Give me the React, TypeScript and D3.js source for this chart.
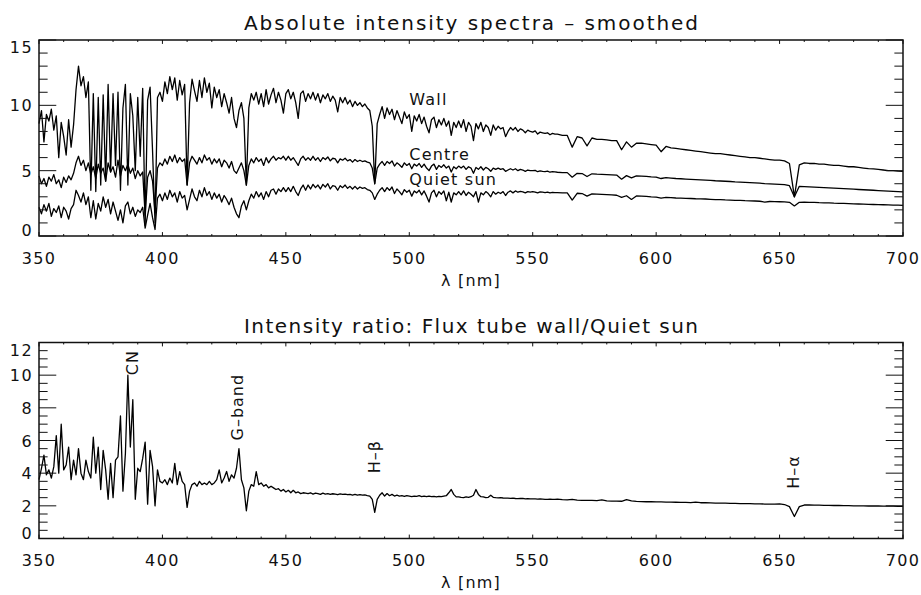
import React from 'react';
import * as d3 from 'd3';

// wavelength grid [nm]: 1 nm steps up to 560, 2 nm steps beyond
const lambdaBlue = d3.range(350, 560, 1);
const lambdaRed = d3.range(560, 701, 2);
const lambda = lambdaBlue.concat(lambdaRed);

// top panel - absolute intensity (smoothed)
const wallBlue = [
  8.6, 9.6, 7.2, 9.3, 8.8, 9.7, 8.1, 9.2, 6.0, 8.7,
  7.6, 6.2, 8.9, 6.8, 8.5, 11.2, 13.0, 11.5, 12.2, 10.6,
  11.8, 3.5, 10.9, 3.4, 10.6, 3.9, 10.8, 4.2, 11.6, 4.9,
  10.9, 5.4, 11.0, 3.5, 9.8, 11.6, 3.9, 10.9, 9.2, 5.0,
  10.6, 6.1, 11.3, 0.8, 10.4, 11.4, 6.5, 1.0, 10.6, 11.0,
  10.3, 11.8, 10.9, 12.2, 11.2, 12.1, 10.4, 11.9, 10.8, 11.6,
  3.9, 10.2, 12.0, 11.1, 10.3, 11.9, 10.6, 12.1, 11.0, 11.7,
  9.8, 11.4, 10.6, 11.2, 9.9, 10.9, 10.2, 9.4, 10.6, 9.0,
  8.3, 9.6, 10.2, 9.0, 3.9, 9.8, 10.9, 10.4, 11.0, 10.1,
  10.9, 9.9, 11.2, 10.1, 10.8, 11.3, 10.2, 11.0, 10.4, 9.4,
  10.9, 11.2, 10.5, 11.0, 10.2, 9.0, 10.9, 11.1, 10.3, 10.9,
  10.5, 11.0, 10.4, 10.9, 10.2, 10.8, 10.5, 10.9, 10.3, 10.7,
  10.4, 9.5, 10.6, 10.2, 10.6, 10.1, 10.4, 9.9, 10.3, 10.0,
  10.2, 9.9, 10.1, 9.8, 9.6, 8.4, 4.0, 8.6, 9.3, 9.9,
  9.0, 9.8, 9.3, 9.7, 8.9, 9.6, 9.1, 8.6, 9.5, 9.0,
  9.3, 8.0, 9.2, 8.8, 9.3, 8.6, 9.1, 8.4, 7.9, 8.9,
  9.1, 8.3, 8.9, 8.5, 9.0, 8.4, 8.8, 7.7, 8.7, 8.3,
  8.8, 8.3, 8.9, 8.0, 8.7, 8.4, 7.3, 8.6, 8.2, 8.7,
  8.0, 8.5, 8.3, 7.7, 8.5, 8.1, 8.4, 8.2, 8.3, 7.6,
  8.0, 8.3, 8.1, 8.3, 8.0, 8.2, 8.1, 7.9, 8.1, 8.0,
  7.95, 8.05, 7.8, 7.95, 7.9, 7.85, 7.9, 7.75, 7.85, 7.8,
];
const wallRed = [
  7.8, 7.7, 7.7, 6.8, 7.6, 7.5, 6.9, 7.5, 7.4, 7.4,
  7.35, 7.3, 7.3, 6.6, 7.2, 6.8, 7.1, 7.1, 7.05, 7.0,
  6.95, 6.45, 6.85, 6.75, 6.7, 6.65, 6.6, 6.55, 6.5, 6.45,
  6.4, 6.35, 6.3, 6.3, 6.25, 6.2, 6.15, 6.1, 6.05, 6.0,
  6.0, 5.95, 5.9, 5.85, 5.8, 5.8, 5.75, 5.55, 3.0, 5.45,
  5.6, 5.55, 5.55, 5.5, 5.5, 5.45, 5.4, 5.4, 5.35, 5.3,
  5.3, 5.25, 5.2, 5.15, 5.13, 5.1, 5.05, 5.0, 5.0, 4.97,
  4.95,
];

const centreBlue = [
  4.6, 4.0, 4.4, 3.8, 4.5, 4.2, 4.7, 4.0, 4.3, 3.7,
  4.5, 4.1, 4.6, 4.3, 4.8, 5.6, 6.1, 5.4, 5.8, 5.0,
  5.6, 4.7, 5.3, 4.4, 5.5, 4.8, 5.2, 4.2, 5.6, 4.9,
  5.3, 4.5, 5.8, 4.6, 5.4, 5.0, 5.5, 4.8, 5.2, 4.4,
  5.0, 4.6, 4.9, 1.6, 4.5, 5.0, 4.2, 1.8, 5.2, 5.6,
  5.4, 5.9, 5.5, 6.1, 5.7, 6.2, 5.6, 6.0, 5.7, 5.9,
  3.9, 5.6, 6.1, 5.8, 5.5, 6.0, 5.6, 6.2, 5.8, 6.0,
  5.5, 5.9, 5.6, 5.9, 5.3, 5.8, 5.6, 5.2, 5.7, 5.0,
  4.8, 5.2, 5.6, 5.0, 3.9, 5.4, 5.9, 5.6, 6.0, 5.7,
  5.9, 5.4, 6.0, 5.6, 5.9, 6.1, 5.8, 6.0, 5.9, 6.1,
  5.8, 6.1, 5.8, 6.0, 5.7, 5.4, 5.9, 6.1, 5.8, 6.0,
  5.8, 6.1, 5.8, 6.0, 5.7, 6.0, 5.85, 6.05, 5.75, 5.95,
  5.9, 5.6, 5.9, 5.8, 5.95, 5.75, 5.85, 5.65, 5.85, 5.7,
  5.8, 5.7, 5.75, 5.65, 5.6, 5.2, 4.0, 5.2, 5.5, 5.7,
  5.4, 5.7, 5.55, 5.75, 5.35, 5.6, 5.45, 5.25, 5.6, 5.4,
  5.55, 5.15, 5.5, 5.35, 5.55, 5.25, 5.5, 5.2, 5.0, 5.35,
  5.5, 5.1, 5.4, 5.25, 5.45, 5.2, 5.35, 4.9, 5.3, 5.15,
  5.35, 5.2, 5.35, 5.1, 5.3, 5.2, 4.8, 5.25, 5.1, 5.3,
  5.05, 5.25, 5.15, 4.95, 5.2, 5.1, 5.2, 5.1, 5.15, 4.95,
  5.05, 5.15, 5.05, 5.15, 5.0, 5.1, 5.05, 4.95, 5.05, 5.0,
  5.0, 5.02, 4.92, 4.98, 4.95, 4.93, 4.96, 4.88, 4.92, 4.9,
];
const centreRed = [
  4.88, 4.85, 4.85, 4.5, 4.8, 4.78, 4.55, 4.76, 4.73, 4.72,
  4.7, 4.68, 4.66, 4.35, 4.62, 4.45, 4.6, 4.58, 4.56, 4.52,
  4.5, 4.4, 4.46, 4.43, 4.4, 4.38, 4.36, 4.34, 4.32, 4.3,
  4.28, 4.26, 4.23, 4.21, 4.19, 4.17, 4.14, 4.12, 4.1, 4.08,
  4.06, 4.04, 4.01, 3.99, 3.97, 3.95, 3.93, 3.85, 3.0, 3.8,
  3.78, 3.76, 3.74, 3.72, 3.7, 3.68, 3.66, 3.64, 3.62, 3.6,
  3.58, 3.56, 3.54, 3.52, 3.5, 3.48, 3.46, 3.44, 3.42, 3.4,
  3.38,
];

const quietBlue = [
  2.2, 1.7, 2.4, 1.9, 2.5, 1.5, 2.1, 1.8, 2.3, 1.4,
  2.2, 1.9, 1.3, 2.1, 2.4, 3.5, 3.1, 2.6, 3.3, 2.4,
  3.0, 1.4, 2.7, 1.3, 2.5, 1.9, 3.0, 2.2, 2.8, 1.7,
  2.6, 1.9, 1.2, 2.0, 1.0, 2.3, 2.6, 1.7, 2.2, 1.5,
  2.0, 1.8, 2.2, 0.6, 1.6, 2.5, 1.4, 0.5, 2.9, 3.2,
  2.7, 3.3, 2.8, 3.5, 3.0, 3.3, 2.6, 3.4, 2.9, 3.1,
  2.0, 2.8, 3.6, 3.0, 2.7, 3.5, 3.0, 3.7, 3.1, 3.4,
  2.8, 3.3, 2.9, 3.2, 2.6, 3.1, 2.8, 2.4, 2.9, 2.2,
  1.7, 1.4, 2.3, 2.7, 2.0, 2.7, 3.2, 2.9, 3.4, 3.0,
  3.3, 2.8, 3.4, 3.0, 3.5, 3.6, 3.2, 3.6, 3.4, 3.7,
  3.4, 3.7, 3.4, 3.8, 3.4, 3.1, 3.6, 3.9, 3.5, 3.9,
  3.6, 3.95, 3.7, 3.9, 3.6, 3.95, 3.75, 4.0, 3.6, 3.85,
  3.8, 3.5, 3.85, 3.7, 3.9, 3.65, 3.8, 3.6, 3.8, 3.6,
  3.75, 3.65, 3.7, 3.55, 3.5, 3.3, 2.8, 3.2, 3.5, 3.7,
  3.4, 3.7, 3.5, 3.75, 3.25, 3.6, 3.4, 3.15, 3.55, 3.35,
  3.5, 3.05, 3.45, 3.3, 3.5, 3.15, 3.45, 3.05, 2.6, 3.3,
  3.5, 3.0, 3.4, 3.2, 3.45, 2.7, 3.35, 2.6, 3.3, 3.15,
  3.4, 3.15, 3.45, 3.1, 3.35, 3.2, 3.0, 3.4, 2.6, 3.3,
  3.15, 3.4, 3.25, 3.0, 3.4, 3.2, 3.35, 3.25, 3.4, 3.1,
  3.35, 3.45, 3.3, 3.45, 3.35, 3.42, 3.38, 3.3, 3.4, 3.36,
  3.4, 3.36, 3.3, 3.38, 3.35, 3.32, 3.36, 3.3, 3.34, 3.32,
];
const quietRed = [
  3.32, 3.3, 3.3, 2.75, 3.27, 3.25, 3.05, 3.22, 3.2, 3.18,
  3.16, 3.14, 3.12, 2.95, 3.08, 2.8, 3.06, 3.05, 3.03, 3.0,
  2.98, 2.9, 2.95, 2.93, 2.91, 2.9, 2.88, 2.87, 2.85, 2.84,
  2.83, 2.81, 2.79, 2.78, 2.76, 2.75, 2.73, 2.72, 2.7, 2.69,
  2.68, 2.66, 2.6, 2.64, 2.63, 2.62, 2.61, 2.58, 2.3, 2.58,
  2.6, 2.58, 2.57, 2.55, 2.54, 2.53, 2.51, 2.5, 2.49, 2.48,
  2.46, 2.45, 2.44, 2.42, 2.41, 2.4, 2.39, 2.38, 2.37, 2.36,
  2.35,
];

// bottom panel - ratio wall / quiet sun
const ratioBlue = [
  3.6, 4.3, 5.1, 3.9, 4.2, 3.7, 4.4, 6.3, 4.0, 7.0,
  4.2, 4.5, 5.6, 3.6, 4.8, 3.9, 5.5, 4.0, 3.6, 4.8,
  4.1, 3.7, 6.2, 4.0, 5.6, 3.0, 5.4, 4.2, 2.4, 4.6,
  2.5, 4.8, 5.0, 7.5, 2.9, 5.2, 10.0, 5.6, 8.5, 2.4,
  4.3, 4.1, 4.9, 5.9, 2.1, 5.4, 4.4, 2.0, 4.2, 3.5,
  3.4, 3.6, 3.3, 3.7, 3.4, 4.6, 3.3, 4.1, 3.5, 3.3,
  1.9, 2.9, 3.3, 3.4, 3.2, 3.5, 3.3, 3.4, 3.3, 3.5,
  3.3, 3.4, 3.6, 4.2, 3.4, 3.7, 4.1, 3.5, 3.9, 3.7,
  4.3, 5.5, 3.6, 3.1, 1.7, 2.9, 3.3, 3.2, 4.1, 3.3,
  3.4, 3.2, 3.3, 3.1, 3.2, 3.1, 3.0, 3.05, 2.9, 3.0,
  2.85, 2.95, 2.8, 2.95, 2.8, 2.85, 2.75, 2.8, 2.78, 2.75,
  2.8, 2.72, 2.78, 2.75, 2.7, 2.78, 2.72, 2.75, 2.7, 2.74,
  2.72, 2.68, 2.73, 2.7, 2.72, 2.68, 2.7, 2.66, 2.7, 2.65,
  2.68, 2.65, 2.67, 2.63, 2.6, 2.4, 1.6, 2.4, 2.65, 2.8,
  2.6, 2.75, 2.62, 2.7, 2.6, 2.65, 2.6, 2.62, 2.58, 2.63,
  2.6, 2.57, 2.6, 2.58, 2.62, 2.57, 2.6, 2.56, 2.6, 2.56,
  2.58, 2.55, 2.58, 2.56, 2.6, 2.62, 2.8, 3.0, 2.7, 2.55,
  2.55, 2.52, 2.5, 2.55, 2.52, 2.56, 2.65, 3.0, 2.7, 2.56,
  2.55, 2.5, 2.52, 2.65, 2.52, 2.5, 2.49, 2.5, 2.48, 2.47,
  2.47, 2.46, 2.47, 2.45, 2.44, 2.45, 2.46, 2.43, 2.44, 2.42,
  2.43, 2.42, 2.41, 2.42, 2.41, 2.4, 2.4, 2.41, 2.39, 2.39,
];
const ratioRed = [
  2.41, 2.38, 2.37, 2.4, 2.35, 2.34, 2.33, 2.33, 2.32, 2.36,
  2.3, 2.29, 2.29, 2.28, 2.38, 2.3, 2.27, 2.26, 2.25, 2.25,
  2.24, 2.24, 2.23, 2.23, 2.22, 2.21, 2.21, 2.2, 2.23, 2.19,
  2.19, 2.18, 2.17, 2.17, 2.16, 2.15, 2.15, 2.14, 2.14, 2.13,
  2.12, 2.12, 2.11, 2.1, 2.1, 2.12, 2.08, 1.95, 1.35, 1.95,
  2.05, 2.05, 2.04, 2.04, 2.03, 2.03, 2.02, 2.02, 2.01, 2.01,
  2.0, 2.0, 2.0, 1.99, 1.99, 1.99, 1.98, 1.98, 1.98, 1.97,
  1.97,
];

const wall = wallBlue.concat(wallRed);
const centre = centreBlue.concat(centreRed);
const quiet = quietBlue.concat(quietRed);
const ratio = ratioBlue.concat(ratioRed);

const xTickLabels = ['350', '400', '450', '500', '550', '600', '650', '700'];

// curve labels: [text, lambda, value]
const topLabels: [string, number, number][] = [
  ['Wall', 500, 10.0],
  ['Centre', 500, 5.8],
  ['Quiet sun', 500, 3.9],
];
const bottomLabels: [string, number, number][] = [
  ['CN', 390, 10.0],
  ['G–band', 432.5, 6.0],
  ['H–β', 488, 4.0],
  ['H–α', 658, 3.05],
];

const FONT = 'DejaVu Sans';
const INK = '#111';
const X0 = 39, X1 = 903;

type PanelProps = {
  y0: number; y1: number; yMax: number; yMajor: number; yMinor: number;
  title: string; series: number[][];
  labels: [string, number, number][]; rotated: boolean;
};

function Panel({ y0, y1, yMax, yMajor, yMinor, title, series, labels, rotated }: PanelProps) {
  const x = d3.scaleLinear().domain([350, 700]).range([X0, X1]);
  const y = d3.scaleLinear().domain([0, yMax]).range([y1, y0]);
  const line = d3.line<number>()
    .x((_, i) => x(lambda[i]))
    .y(d => y(d));

  const xMinor = d3.range(350, 701, 10);
  const yTicks = d3.range(0, yMax + 1e-6, yMinor);
  const isMajor = (v: number, step: number) => Math.abs(v / step - Math.round(v / step)) < 1e-6;
  const xLen = 0.02 * (y1 - y0);
  const yLen = 0.02 * (X1 - X0);

  return (
    <g>
      <text x={471} y={y0 - 10} textAnchor="middle" fontFamily={FONT} fontSize={20}
        textLength={454} lengthAdjust="spacing" fill={INK}>{title}</text>

      {series.map((s, k) => (
        <path key={k} d={line(s.slice(0, lambda.length)) || ''} fill="none"
          stroke="#000" strokeWidth={1.3} strokeLinejoin="round" />
      ))}

      {xMinor.map(v => {
        const len = isMajor(v, 50) ? xLen : xLen / 2;
        return (
          <g key={'xt' + v} stroke={INK} strokeWidth={1}>
            <line x1={x(v)} x2={x(v)} y1={y1} y2={y1 - len} />
            <line x1={x(v)} x2={x(v)} y1={y0} y2={y0 + len} />
          </g>
        );
      })}
      {yTicks.map(v => {
        const len = isMajor(v, yMajor) ? yLen : yLen / 2;
        return (
          <g key={'yt' + v} stroke={INK} strokeWidth={1}>
            <line x1={X0} x2={X0 + len} y1={y(v)} y2={y(v)} />
            <line x1={X1} x2={X1 - len} y1={y(v)} y2={y(v)} />
          </g>
        );
      })}
      <rect x={X0} y={y0} width={X1 - X0} height={y1 - y0} fill="none" stroke={INK} strokeWidth={1.5} />

      {xTickLabels.map(t => (
        <text key={'xl' + t} x={x(+t)} y={y1 + 27.5} textAnchor="middle" fontFamily={FONT}
          fontSize={16} letterSpacing={1.4} fill={INK}>{t}</text>
      ))}
      {yTicks.filter(v => isMajor(v, yMajor)).map(v => {
        const c = Math.min(Math.max(y(v), y0 + 7), y1 - 6);
        return (
          <text key={'yl' + v} x={33} y={c + 6} textAnchor="end" fontFamily={FONT}
            fontSize={16} letterSpacing={1.4} fill={INK}>{String(v)}</text>
        );
      })}
      <text x={471} y={y1 + 49.5} textAnchor="middle" fontFamily={FONT} fontSize={16}
        letterSpacing={1.2} fill={INK}>λ [nm]</text>

      {labels.map(([t, lx, ly]) => rotated ? (
        <text key={t} transform={`translate(${x(lx)},${y(ly)}) rotate(-90)`} fontFamily={FONT}
          fontSize={16} letterSpacing={1} fill={INK}>{t}</text>
      ) : (
        <text key={t} x={x(lx)} y={y(ly)} fontFamily={FONT} fontSize={16}
          letterSpacing={1.2} fill={INK}>{t}</text>
      ))}
    </g>
  );
}

export default function App() {
  return (
    <svg width={921} height={595} style={{ position: 'absolute', left: 0, top: 0, background: '#fff' }}>
      <rect width={921} height={595} fill="#fff" />
      <Panel y0={40} y1={236} yMax={15} yMajor={5} yMinor={1}
        title="Absolute intensity spectra – smoothed"
        series={[wall, centre, quiet]} labels={topLabels} rotated={false} />
      <Panel y0={342.5} y1={538.5} yMax={12} yMajor={2} yMinor={0.5}
        title="Intensity ratio: Flux tube wall/Quiet sun"
        series={[ratio]} labels={bottomLabels} rotated={true} />
    </svg>
  );
}
